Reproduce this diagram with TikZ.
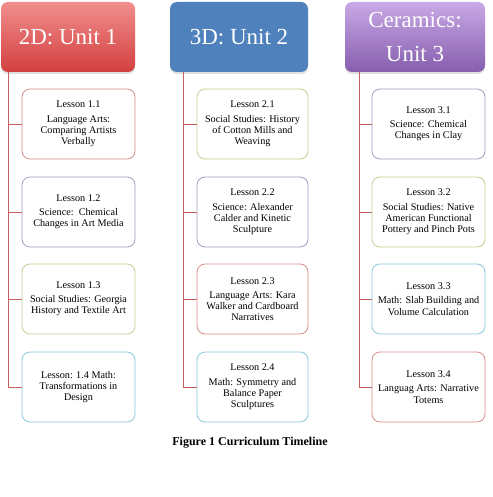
\documentclass[tikz,border=0pt]{standalone}
\usepackage{fontspec}
\setmainfont{Liberation Serif}
\usetikzlibrary{shadows}
\definecolor{accred}{HTML}{C0504D}
\definecolor{accpurple}{HTML}{8064A2}
\definecolor{accgreen}{HTML}{9BBB59}
\definecolor{accaqua}{HTML}{4BACC6}
\definecolor{accblue}{HTML}{4F81BD}
\definecolor{redtop}{HTML}{F28E8E}
\definecolor{redbot}{HTML}{D2403F}
\definecolor{purtop}{HTML}{C9A9E6}
\definecolor{purbot}{HTML}{865EAE}
\tikzset{
  header/.style={rounded corners=7pt, minimum height=70pt, text=white,
    font=\fontsize{23}{33}\selectfont, align=center, inner sep=0pt,
    drop shadow={opacity=0.25, shadow xshift=0pt, shadow yshift=-2pt}},
  lesson/.style={draw=#1!65!white, line width=0.8pt, fill=white, rounded corners=8pt,
    minimum width=113pt, minimum height=70pt, align=center, inner sep=0pt,
    font=\fontsize{10.2}{11.2}\selectfont},
  conn/.style={draw=accred!90!white, line width=0.8pt},
}
\newcommand{\lsn}[2]{#1\\[3pt]#2}
\begin{document}
\begin{tikzpicture}[x=1pt,y=-1pt]
\useasboundingbox (0,0) rectangle (492,497);
% headers
\node[header, top color=redtop, bottom color=redbot, minimum width=134pt] (h1) at (68,37) {2D: Unit 1};
\node[header, fill=accblue, minimum width=138pt] (h2) at (239,37) {3D: Unit 2};
\node[header, top color=purtop, bottom color=purbot, minimum width=140pt] (h3) at (415,37) {Ceramics:\\Unit 3};
% lessons column 1
\node[lesson=accred]    (l11) at (78.5,124) {\lsn{Lesson 1.1}{Language Arts:\\Comparing Artists\\Verbally}};
\node[lesson=accpurple] (l12) at (78.5,212) {\lsn{Lesson 1.2}{Science:\ \ Chemical\\Changes in Art Media}};
\node[lesson=accgreen]  (l13) at (78.5,299) {\lsn{Lesson 1.3}{Social Studies: Georgia\\History and Textile Art}};
\node[lesson=accaqua]   (l14) at (78.5,387) {Lesson: 1.4 Math:\\Transformations in\\Design};
% lessons column 2
\node[lesson=accgreen, minimum width=111pt]  (l21) at (252.5,124) {\lsn{Lesson 2.1}{Social Studies: History\\of Cotton Mills and\\Weaving}};
\node[lesson=accpurple, minimum width=111pt] (l22) at (252.5,212) {\lsn{Lesson 2.2}{Science: Alexander\\Calder and Kinetic\\Sculpture}};
\node[lesson=accred, minimum width=111pt]    (l23) at (252.5,299) {\lsn{Lesson 2.3}{Language Arts: Kara\\Walker and Cardboard\\Narratives}};
\node[lesson=accaqua, minimum width=111pt]   (l24) at (252.5,387) {\lsn{Lesson 2.4}{Math: Symmetry and\\Balance Paper\\Sculptures}};
% lessons column 3
\node[lesson=accpurple] (l31) at (428.5,124) {\lsn{Lesson 3.1}{Science: Chemical\\Changes in Clay}};
\node[lesson=accgreen]  (l32) at (428.5,212) {\lsn{Lesson 3.2}{Social Studies: Native\\American Functional\\Pottery and Pinch Pots}};
\node[lesson=accaqua]   (l33) at (428.5,299) {\lsn{Lesson 3.3}{Math: Slab Building and\\Volume Calculation}};
\node[lesson=accred]    (l34) at (428.5,387) {\lsn{Lesson 3.4}{Languag Arts: Narrative\\Totems}};
% connector start points under the headers
\coordinate (t1) at (8,72);
\coordinate (t2) at (183,72);
\coordinate (t3) at (359,72);
\draw[conn] (t1) |- (l14.west);
\draw[conn] (t1) |- (l11.west);
\draw[conn] (t1) |- (l12.west);
\draw[conn] (t1) |- (l13.west);
\draw[conn] (t2) |- (l24.west);
\draw[conn] (t2) |- (l21.west);
\draw[conn] (t2) |- (l22.west);
\draw[conn] (t2) |- (l23.west);
\draw[conn] (t3) |- (l34.west);
\draw[conn] (t3) |- (l31.west);
\draw[conn] (t3) |- (l32.west);
\draw[conn] (t3) |- (l33.west);
% caption
\node[font=\fontsize{12}{14}\selectfont\bfseries] (cap) at (250,443) {Figure 1 Curriculum Timeline};
\end{tikzpicture}
\end{document}
